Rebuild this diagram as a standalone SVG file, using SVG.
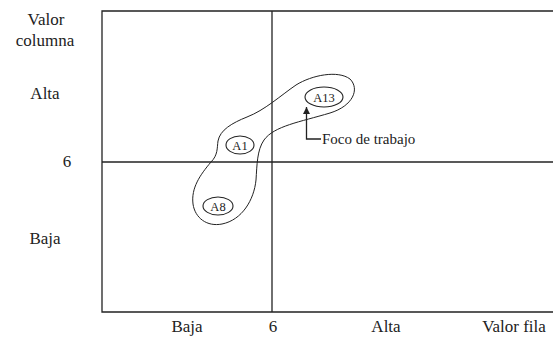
<svg xmlns="http://www.w3.org/2000/svg" width="553" height="339" viewBox="0 0 553 339">
<style>
.t{font-family:"Liberation Serif","Times New Roman",serif;font-size:17px;fill:#222;text-anchor:middle}
.s{font-family:"Liberation Serif","Times New Roman",serif;font-size:12.5px;fill:#222;text-anchor:middle}
.f{font-family:"Liberation Serif","Times New Roman",serif;font-size:15px;fill:#222}
.ln{fill:none;stroke:#222;stroke-width:1.3}
.e{fill:#fff;stroke:#222;stroke-width:1.1}
</style>
<defs>
<marker id="ah" viewBox="0 0 10 10" refX="10" refY="5" markerWidth="7" markerHeight="7" markerUnits="userSpaceOnUse" orient="auto"><path d="M0,0 L10,5 L0,10 Z" fill="#222"/></marker>
</defs>
<g id="axes">
<path class="ln" d="M553,11 H102 V312 H553"/>
<path class="ln" d="M272,11 V312"/>
<path class="ln" d="M102,162 H553"/>
</g>
<g id="labels">
<text class="t" x="46" y="25">Valor</text>
<text class="t" x="45" y="46">columna</text>
<text class="t" x="45" y="99">Alta</text>
<text class="t" x="67" y="167">6</text>
<text class="t" x="45" y="244">Baja</text>
<text class="t" x="187" y="332">Baja</text>
<text class="t" x="273" y="332">6</text>
<text class="t" x="386" y="332">Alta</text>
<text class="t" x="514" y="332">Valor fila</text>
</g>
<g id="focus-region">
<path fill="none" stroke="#222" stroke-width="1" d="M218,141 C220,130 232,123 247,117 C265,110 280,96 296,85 C312,75 338,70 350,79 C360,89 353,106 330,113 C300,122 274,126 264,140 C257,150 257,165 256,180 C254,200 242,220 222,224 C207,227 195,218 193,204 C191,188 200,175 211,162 C218,155 217,148 218,141 Z"/>
</g>
<g id="A1"><ellipse class="e" cx="240" cy="145" rx="14" ry="9"/><text class="s" x="240" y="149.5">A1</text></g>
<g id="A8"><ellipse class="e" cx="218" cy="206" rx="15" ry="9"/><text class="s" x="218" y="210.5">A8</text></g>
<g id="A13"><ellipse class="e" cx="324" cy="97" rx="19" ry="10"/><text class="s" x="324" y="101.5">A13</text></g>
<g id="connectors">
<path class="ln" d="M321,139 H306.5 V107" marker-end="url(#ah)"/>
</g>
<g id="foco"><text class="f" x="322" y="144">Foco de trabajo</text></g>
</svg>
